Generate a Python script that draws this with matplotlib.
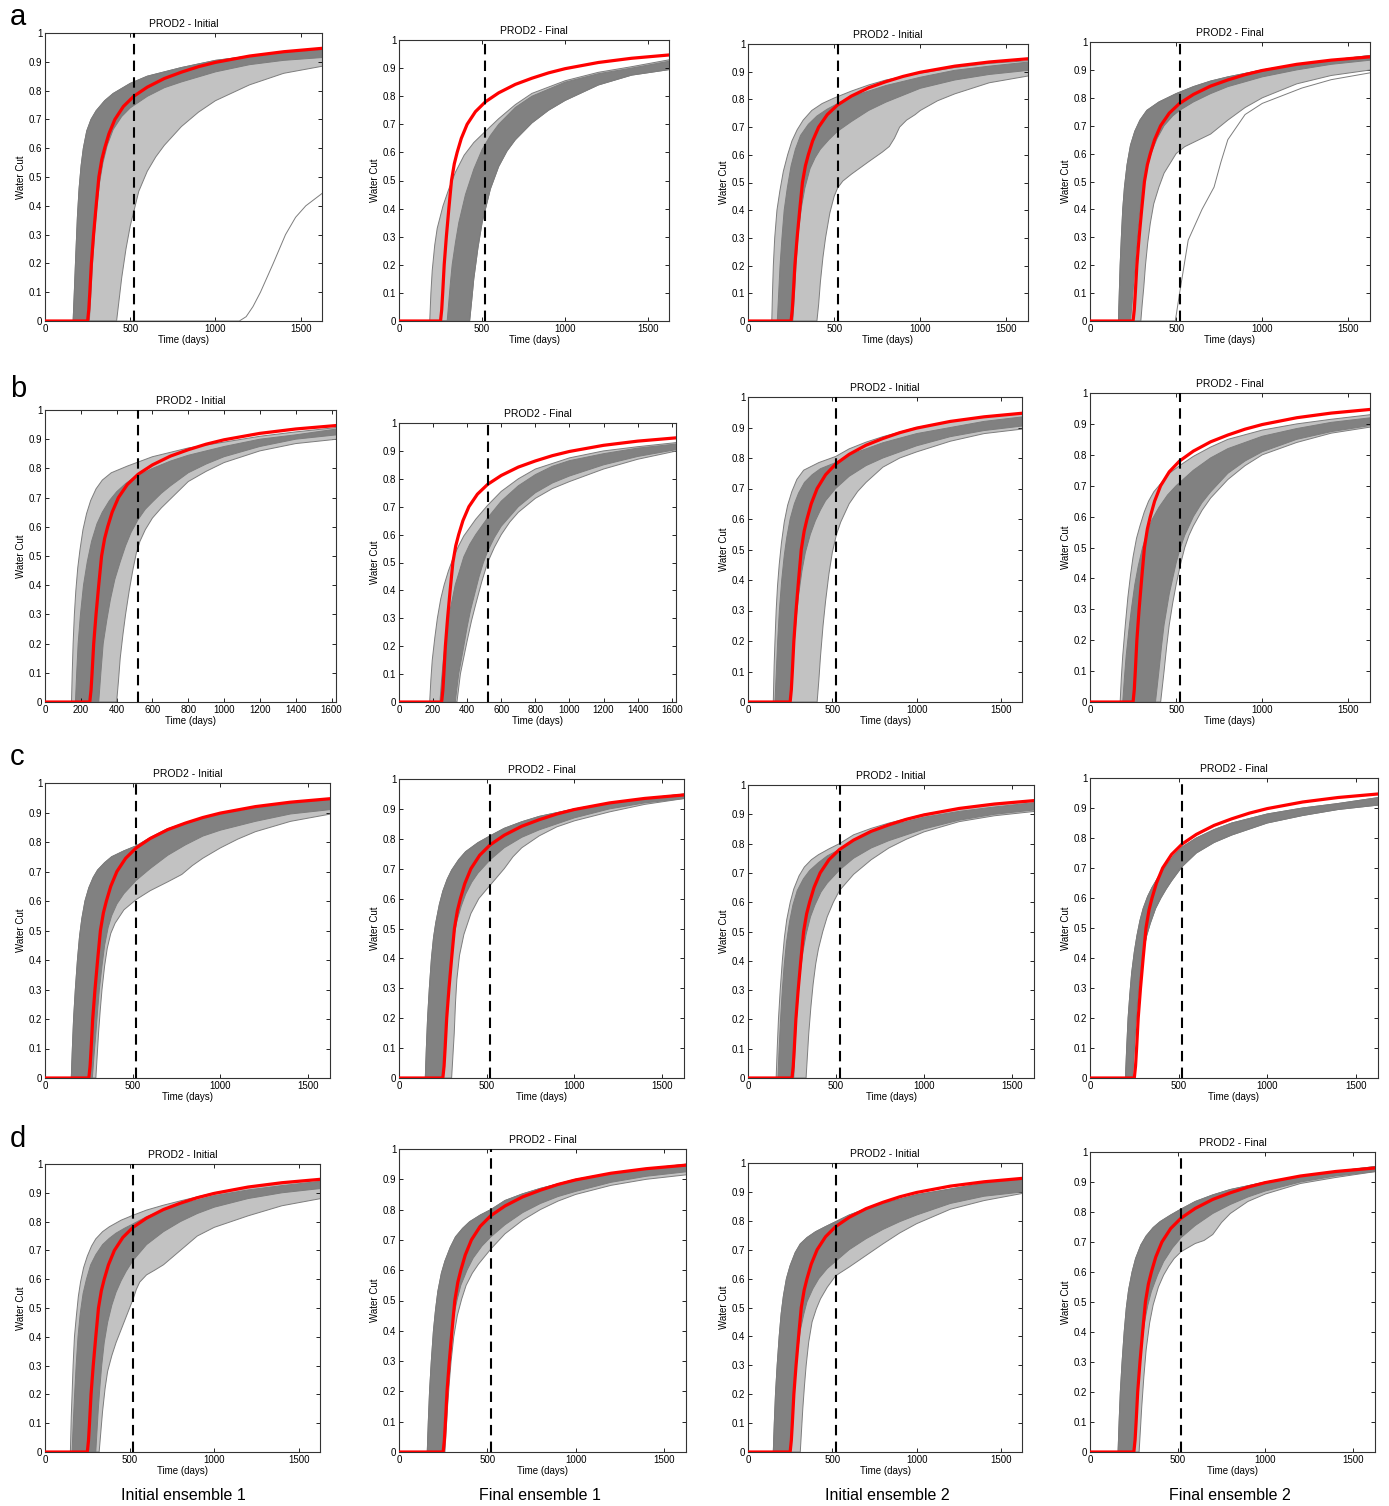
import matplotlib.pyplot as plt

plt.rcParams['font.family'] = ['Liberation Sans', 'DejaVu Sans']

# ---- data (time in days, water cut 0..1) ----

# truth water cut (red), identical in every panel
truth_t = [0, 150, 250, 257, 263, 272, 285, 300, 316, 333, 350, 375, 410, 460, 520, 600, 700, 800, 900, 1000, 1200, 1400, 1630]
truth_wc = [0, 0, 0, 0.04, 0.1, 0.2, 0.3, 0.4, 0.5, 0.56, 0.6, 0.65, 0.7, 0.745, 0.78, 0.812, 0.842, 0.864, 0.883, 0.898, 0.92, 0.935, 0.947]

history_end = 520  # dashed line

# ensemble envelopes as (time, water cut) points
# outer = all realisations, core = where the grey curves overlap densely
a1_outer_up = [(0, 0), (165, 0), (172, 0.1), (180, 0.22), (190, 0.36), (200, 0.46), (212, 0.54), (225, 0.6), (245, 0.66), (270, 0.7), (300, 0.73), (350, 0.765), (400, 0.79), (500, 0.825), (600, 0.85), (800, 0.88), (1000, 0.905), (1200, 0.92), (1400, 0.933), (1630, 0.943)]
a1_core_lo = [(0, 0), (260, 0), (268, 0.08), (277, 0.18), (290, 0.3), (305, 0.4), (320, 0.48), (340, 0.55), (365, 0.61), (400, 0.665), (450, 0.71), (500, 0.74), (600, 0.78), (700, 0.81), (800, 0.83), (1000, 0.865), (1200, 0.89), (1400, 0.905), (1630, 0.915)]
a1_outer_lo = [(0, 0), (420, 0), (432, 0.06), (450, 0.15), (475, 0.25), (500, 0.33), (550, 0.45), (600, 0.52), (650, 0.57), (700, 0.61), (800, 0.675), (900, 0.725), (1000, 0.765), (1200, 0.82), (1400, 0.86), (1630, 0.885)]
a1_extra = [[(0, 0), (1140, 0), (1180, 0.015), (1220, 0.05), (1264, 0.1), (1339, 0.2), (1411, 0.3), (1470, 0.36), (1530, 0.4), (1630, 0.445)]]

a2_outer_up = [(0, 0), (185, 0), (192, 0.1), (200, 0.18), (215, 0.27), (230, 0.33), (265, 0.41), (300, 0.47), (340, 0.53), (392, 0.59), (450, 0.635), (520, 0.675), (600, 0.72), (700, 0.77), (800, 0.81), (1000, 0.855), (1200, 0.885), (1400, 0.905), (1630, 0.93)]
a2_core_up = [(0, 0), (290, 0), (300, 0.07), (310, 0.14), (320, 0.2), (340, 0.28), (360, 0.35), (400, 0.45), (450, 0.54), (500, 0.61), (550, 0.66), (600, 0.7), (700, 0.76), (800, 0.8), (1000, 0.85), (1200, 0.88), (1400, 0.9), (1630, 0.925)]
a2_core_lo = [(0, 0), (425, 0), (437, 0.07), (450, 0.15), (475, 0.26), (500, 0.35), (550, 0.47), (600, 0.55), (650, 0.605), (700, 0.645), (800, 0.705), (900, 0.75), (1000, 0.785), (1200, 0.84), (1400, 0.875), (1630, 0.895)]

a3_outer_up = [(0, 0), (138, 0), (142, 0.1), (147, 0.2), (155, 0.3), (168, 0.4), (185, 0.47), (205, 0.54), (230, 0.6), (255, 0.65), (285, 0.69), (320, 0.725), (370, 0.76), (430, 0.785), (500, 0.805), (600, 0.83), (700, 0.852), (800, 0.87), (1000, 0.895), (1200, 0.915), (1400, 0.93), (1630, 0.94)]
a3_core_up = [(0, 0), (170, 0), (178, 0.1), (186, 0.2), (197, 0.3), (210, 0.4), (228, 0.48), (250, 0.56), (275, 0.62), (305, 0.67), (350, 0.71), (400, 0.74), (460, 0.765), (520, 0.785), (600, 0.81), (700, 0.83), (800, 0.85), (1000, 0.88), (1200, 0.905), (1400, 0.92), (1630, 0.935)]
a3_core_lo = [(0, 0), (260, 0), (270, 0.1), (280, 0.22), (292, 0.32), (310, 0.41), (330, 0.48), (360, 0.55), (390, 0.59), (420, 0.62), (470, 0.655), (520, 0.685), (600, 0.72), (700, 0.76), (800, 0.79), (1000, 0.84), (1200, 0.87), (1400, 0.89), (1630, 0.905)]
a3_outer_lo = [(0, 0), (400, 0), (410, 0.06), (420, 0.14), (435, 0.23), (450, 0.3), (475, 0.39), (500, 0.45), (520, 0.48), (550, 0.505), (600, 0.53), (700, 0.575), (780, 0.61), (820, 0.63), (850, 0.66), (880, 0.7), (920, 0.725), (970, 0.745), (1000, 0.76), (1100, 0.795), (1200, 0.82), (1400, 0.86), (1630, 0.885)]

a4_outer_up = [(0, 0), (165, 0), (170, 0.1), (175, 0.2), (182, 0.3), (190, 0.4), (200, 0.48), (215, 0.56), (235, 0.63), (260, 0.68), (290, 0.72), (330, 0.755), (400, 0.785), (500, 0.815), (600, 0.84), (700, 0.86), (800, 0.875), (1000, 0.9), (1200, 0.92), (1400, 0.935), (1630, 0.952)]
a4_core_lo = [(0, 0), (235, 0), (245, 0.07), (255, 0.15), (265, 0.23), (275, 0.3), (288, 0.39), (300, 0.45), (315, 0.5), (335, 0.56), (360, 0.61), (390, 0.655), (430, 0.7), (480, 0.735), (520, 0.755), (600, 0.785), (700, 0.815), (800, 0.84), (1000, 0.875), (1200, 0.9), (1400, 0.92), (1630, 0.935)]
a4_outer_lo = [(0, 0), (295, 0), (303, 0.06), (312, 0.12), (322, 0.2), (335, 0.28), (350, 0.35), (370, 0.42), (400, 0.48), (430, 0.53), (470, 0.57), (500, 0.6), (550, 0.625), (600, 0.64), (650, 0.655), (700, 0.67), (750, 0.695), (800, 0.72), (900, 0.765), (1000, 0.8), (1200, 0.85), (1400, 0.88), (1630, 0.9)]
a4_extra = [[(0, 0), (495, 0), (520, 0.1), (570, 0.29), (650, 0.4), (720, 0.48), (760, 0.57), (800, 0.65), (900, 0.74), (1000, 0.78), (1230, 0.835), (1400, 0.865), (1630, 0.89)]]

b1_outer_up = [(0, 0), (148, 0), (152, 0.1), (157, 0.2), (164, 0.3), (172, 0.38), (183, 0.46), (195, 0.52), (212, 0.59), (232, 0.645), (255, 0.69), (285, 0.73), (320, 0.76), (370, 0.785), (460, 0.808), (600, 0.84), (800, 0.87), (1000, 0.89), (1200, 0.91), (1400, 0.925), (1630, 0.94)]
b1_core_up = [(0, 0), (170, 0), (177, 0.1), (185, 0.2), (198, 0.3), (215, 0.4), (236, 0.48), (260, 0.55), (290, 0.61), (320, 0.65), (360, 0.69), (400, 0.72), (450, 0.748), (500, 0.77), (600, 0.8), (700, 0.825), (800, 0.845), (1000, 0.875), (1200, 0.9), (1400, 0.915), (1630, 0.935)]
b1_core_lo = [(0, 0), (300, 0), (312, 0.1), (325, 0.2), (345, 0.28), (365, 0.35), (390, 0.42), (420, 0.48), (450, 0.535), (480, 0.58), (520, 0.625), (560, 0.66), (600, 0.685), (650, 0.715), (700, 0.74), (800, 0.785), (900, 0.815), (1000, 0.84), (1200, 0.875), (1400, 0.9), (1630, 0.915)]
b1_outer_lo = [(0, 0), (400, 0), (410, 0.07), (420, 0.15), (435, 0.23), (450, 0.3), (470, 0.38), (490, 0.45), (510, 0.51), (530, 0.55), (560, 0.59), (600, 0.63), (650, 0.665), (700, 0.695), (800, 0.755), (900, 0.79), (1000, 0.82), (1200, 0.86), (1400, 0.885), (1630, 0.9)]

b2_outer_up = [(0, 0), (180, 0), (187, 0.08), (195, 0.15), (210, 0.23), (225, 0.3), (245, 0.37), (265, 0.42), (290, 0.47), (320, 0.52), (350, 0.56), (380, 0.595), (450, 0.655), (520, 0.705), (600, 0.755), (700, 0.8), (800, 0.835), (1000, 0.875), (1200, 0.9), (1400, 0.915), (1630, 0.93)]
b2_core_up = [(0, 0), (240, 0), (250, 0.08), (260, 0.15), (275, 0.23), (290, 0.3), (310, 0.36), (330, 0.42), (355, 0.47), (380, 0.52), (415, 0.565), (450, 0.6), (520, 0.66), (600, 0.72), (700, 0.775), (800, 0.815), (900, 0.845), (1000, 0.865), (1200, 0.89), (1400, 0.91), (1630, 0.925)]
b2_core_lo = [(0, 0), (330, 0), (340, 0.05), (350, 0.1), (365, 0.15), (380, 0.2), (400, 0.27), (420, 0.33), (445, 0.39), (470, 0.45), (495, 0.5), (520, 0.54), (560, 0.59), (600, 0.63), (650, 0.665), (700, 0.7), (800, 0.75), (900, 0.785), (1000, 0.81), (1200, 0.85), (1400, 0.88), (1630, 0.905)]
b2_outer_lo = [(0, 0), (340, 0), (350, 0.05), (360, 0.1), (380, 0.16), (400, 0.22), (425, 0.29), (450, 0.35), (485, 0.43), (520, 0.5), (560, 0.555), (600, 0.6), (650, 0.645), (700, 0.68), (800, 0.73), (900, 0.765), (1000, 0.79), (1200, 0.835), (1400, 0.87), (1630, 0.9)]

b3_outer_up = [(0, 0), (150, 0), (155, 0.12), (160, 0.2), (167, 0.3), (175, 0.38), (185, 0.45), (198, 0.52), (215, 0.59), (235, 0.645), (260, 0.69), (290, 0.73), (330, 0.76), (420, 0.785), (520, 0.805), (600, 0.83), (700, 0.852), (800, 0.87), (1000, 0.9), (1200, 0.92), (1400, 0.935), (1630, 0.945)]
b3_core_up = [(0, 0), (160, 0), (168, 0.1), (176, 0.2), (186, 0.3), (200, 0.4), (215, 0.48), (230, 0.54), (250, 0.6), (275, 0.65), (300, 0.685), (335, 0.72), (380, 0.745), (430, 0.765), (520, 0.785), (600, 0.81), (700, 0.83), (800, 0.85), (1000, 0.88), (1200, 0.9), (1400, 0.92), (1630, 0.935)]
b3_core_lo = [(0, 0), (250, 0), (262, 0.1), (275, 0.2), (287, 0.28), (300, 0.35), (320, 0.43), (340, 0.49), (370, 0.55), (400, 0.595), (430, 0.63), (460, 0.66), (520, 0.7), (600, 0.74), (700, 0.775), (800, 0.8), (1000, 0.84), (1200, 0.87), (1400, 0.89), (1630, 0.905)]
b3_outer_lo = [(0, 0), (410, 0), (420, 0.07), (430, 0.15), (445, 0.25), (460, 0.33), (480, 0.42), (500, 0.49), (525, 0.55), (550, 0.59), (600, 0.65), (650, 0.69), (700, 0.72), (800, 0.77), (900, 0.8), (1000, 0.82), (1200, 0.855), (1400, 0.88), (1630, 0.895)]

b4_outer_up = [(0, 0), (175, 0), (182, 0.08), (190, 0.15), (205, 0.25), (220, 0.34), (235, 0.41), (250, 0.47), (270, 0.53), (290, 0.57), (315, 0.615), (340, 0.65), (370, 0.68), (400, 0.7), (460, 0.74), (520, 0.765), (600, 0.795), (700, 0.825), (800, 0.85), (1000, 0.88), (1200, 0.9), (1400, 0.915), (1630, 0.93)]
b4_core_up = [(0, 0), (190, 0), (200, 0.08), (210, 0.15), (225, 0.23), (240, 0.3), (260, 0.38), (280, 0.44), (305, 0.5), (330, 0.545), (360, 0.59), (400, 0.63), (450, 0.67), (500, 0.7), (600, 0.75), (700, 0.79), (800, 0.82), (1000, 0.86), (1200, 0.885), (1400, 0.905), (1630, 0.92)]
b4_core_lo = [(0, 0), (380, 0), (390, 0.05), (400, 0.1), (415, 0.18), (430, 0.25), (445, 0.3), (460, 0.35), (480, 0.4), (500, 0.45), (525, 0.5), (550, 0.54), (600, 0.6), (650, 0.645), (700, 0.68), (800, 0.74), (900, 0.78), (1000, 0.81), (1200, 0.85), (1400, 0.875), (1630, 0.895)]
b4_outer_lo = [(0, 0), (410, 0), (420, 0.05), (430, 0.1), (445, 0.18), (460, 0.25), (480, 0.32), (500, 0.38), (525, 0.445), (550, 0.5), (575, 0.54), (600, 0.57), (650, 0.62), (700, 0.66), (800, 0.72), (900, 0.765), (1000, 0.8), (1200, 0.84), (1400, 0.87), (1630, 0.89)]

c1_outer_up = [(0, 0), (150, 0), (156, 0.1), (163, 0.2), (173, 0.3), (185, 0.4), (197, 0.48), (210, 0.54), (228, 0.6), (250, 0.645), (275, 0.68), (300, 0.705), (340, 0.73), (380, 0.75), (450, 0.77), (520, 0.787), (600, 0.815), (700, 0.845), (800, 0.865), (1000, 0.895), (1200, 0.915), (1400, 0.93), (1630, 0.945)]
c1_core_lo = [(0, 0), (270, 0), (280, 0.08), (290, 0.15), (300, 0.23), (310, 0.3), (325, 0.38), (340, 0.45), (360, 0.51), (380, 0.55), (410, 0.59), (450, 0.625), (520, 0.67), (600, 0.71), (700, 0.755), (800, 0.79), (900, 0.82), (1000, 0.84), (1200, 0.87), (1400, 0.895), (1630, 0.91)]
c1_outer_lo = [(0, 0), (290, 0), (297, 0.07), (305, 0.15), (315, 0.23), (325, 0.3), (340, 0.38), (355, 0.44), (375, 0.49), (400, 0.525), (450, 0.57), (520, 0.605), (600, 0.635), (700, 0.665), (780, 0.69), (810, 0.705), (840, 0.72), (900, 0.745), (1000, 0.78), (1100, 0.81), (1200, 0.835), (1400, 0.87), (1630, 0.895)]

c2_outer_up = [(0, 0), (150, 0), (156, 0.1), (163, 0.2), (173, 0.3), (185, 0.4), (197, 0.47), (210, 0.52), (230, 0.58), (250, 0.625), (275, 0.665), (300, 0.695), (340, 0.73), (380, 0.757), (450, 0.787), (520, 0.81), (600, 0.835), (700, 0.857), (800, 0.875), (1000, 0.9), (1200, 0.92), (1400, 0.935), (1630, 0.95)]
c2_core_lo = [(0, 0), (245, 0), (253, 0.08), (260, 0.15), (270, 0.23), (280, 0.3), (290, 0.37), (300, 0.42), (315, 0.48), (330, 0.525), (355, 0.575), (380, 0.615), (415, 0.655), (450, 0.685), (520, 0.73), (600, 0.77), (700, 0.805), (800, 0.83), (1000, 0.87), (1200, 0.9), (1400, 0.92), (1630, 0.935)]
c2_outer_lo = [(0, 0), (300, 0), (307, 0.07), (315, 0.15), (322, 0.25), (330, 0.33), (345, 0.41), (370, 0.48), (410, 0.55), (455, 0.6), (520, 0.645), (600, 0.7), (650, 0.74), (700, 0.77), (800, 0.81), (900, 0.84), (1000, 0.86), (1200, 0.89), (1400, 0.915), (1630, 0.935)]

c3_outer_up = [(0, 0), (160, 0), (166, 0.1), (173, 0.2), (183, 0.3), (195, 0.4), (207, 0.48), (220, 0.54), (240, 0.6), (260, 0.645), (290, 0.69), (320, 0.72), (360, 0.745), (400, 0.762), (460, 0.782), (520, 0.8), (600, 0.83), (700, 0.852), (800, 0.87), (1000, 0.9), (1200, 0.92), (1400, 0.935), (1630, 0.945)]
c3_core_up = [(0, 0), (170, 0), (177, 0.1), (185, 0.2), (195, 0.3), (205, 0.38), (218, 0.46), (235, 0.53), (255, 0.59), (280, 0.64), (315, 0.68), (350, 0.708), (400, 0.735), (450, 0.758), (520, 0.78), (600, 0.81), (700, 0.838), (800, 0.86), (1000, 0.89), (1200, 0.91), (1400, 0.925), (1630, 0.94)]
c3_core_lo = [(0, 0), (260, 0), (267, 0.1), (275, 0.2), (285, 0.28), (295, 0.35), (312, 0.43), (330, 0.49), (355, 0.55), (380, 0.59), (415, 0.635), (450, 0.665), (520, 0.71), (600, 0.75), (700, 0.785), (800, 0.81), (1000, 0.85), (1200, 0.88), (1400, 0.9), (1630, 0.915)]
c3_outer_lo = [(0, 0), (330, 0), (337, 0.07), (345, 0.15), (357, 0.24), (370, 0.32), (385, 0.39), (400, 0.44), (425, 0.5), (450, 0.55), (485, 0.6), (520, 0.64), (600, 0.695), (700, 0.745), (800, 0.785), (900, 0.815), (1000, 0.84), (1200, 0.875), (1400, 0.895), (1630, 0.91)]

c4_outer_up = [(0, 0), (200, 0), (207, 0.1), (215, 0.2), (225, 0.28), (235, 0.35), (250, 0.42), (265, 0.475), (282, 0.525), (300, 0.565), (325, 0.605), (350, 0.635), (385, 0.67), (420, 0.7), (470, 0.74), (520, 0.77), (600, 0.8), (700, 0.828), (800, 0.85), (1000, 0.88), (1200, 0.9), (1400, 0.915), (1630, 0.935)]
c4_outer_lo = [(0, 0), (240, 0), (247, 0.07), (255, 0.15), (265, 0.23), (275, 0.3), (287, 0.36), (300, 0.42), (320, 0.475), (340, 0.515), (370, 0.565), (400, 0.6), (430, 0.63), (460, 0.657), (520, 0.705), (600, 0.75), (700, 0.785), (800, 0.81), (1000, 0.85), (1200, 0.875), (1400, 0.895), (1630, 0.91)]

d1_outer_up = [(0, 0), (150, 0), (155, 0.12), (160, 0.2), (166, 0.3), (174, 0.4), (185, 0.47), (197, 0.54), (210, 0.59), (228, 0.64), (250, 0.68), (275, 0.715), (300, 0.74), (340, 0.765), (380, 0.782), (450, 0.805), (520, 0.822), (600, 0.84), (700, 0.857), (800, 0.872), (1000, 0.9), (1200, 0.92), (1400, 0.935), (1630, 0.945)]
d1_core_up = [(0, 0), (160, 0), (167, 0.1), (175, 0.2), (184, 0.3), (195, 0.4), (208, 0.48), (225, 0.55), (245, 0.6), (270, 0.65), (300, 0.685), (340, 0.72), (380, 0.742), (420, 0.76), (470, 0.777), (520, 0.792), (600, 0.817), (700, 0.84), (800, 0.86), (1000, 0.89), (1200, 0.91), (1400, 0.925), (1630, 0.94)]
d1_core_lo = [(0, 0), (300, 0), (307, 0.07), (315, 0.15), (325, 0.23), (335, 0.3), (350, 0.38), (370, 0.45), (395, 0.51), (420, 0.555), (450, 0.595), (480, 0.628), (520, 0.665), (600, 0.72), (700, 0.765), (800, 0.8), (900, 0.828), (1000, 0.85), (1200, 0.88), (1400, 0.9), (1630, 0.915)]
d1_outer_lo = [(0, 0), (320, 0), (330, 0.07), (340, 0.14), (355, 0.22), (370, 0.28), (395, 0.335), (420, 0.38), (450, 0.425), (480, 0.47), (500, 0.5), (520, 0.53), (540, 0.565), (560, 0.59), (600, 0.615), (650, 0.632), (700, 0.65), (750, 0.675), (800, 0.7), (900, 0.75), (1000, 0.78), (1100, 0.8), (1200, 0.82), (1400, 0.855), (1630, 0.88)]

d2_outer_up = [(0, 0), (160, 0), (166, 0.1), (173, 0.2), (183, 0.3), (195, 0.4), (207, 0.47), (220, 0.53), (240, 0.59), (260, 0.63), (290, 0.675), (320, 0.71), (360, 0.738), (400, 0.76), (460, 0.782), (520, 0.8), (600, 0.83), (700, 0.852), (800, 0.87), (1000, 0.9), (1200, 0.92), (1400, 0.935), (1630, 0.95)]
d2_core_lo = [(0, 0), (245, 0), (252, 0.07), (260, 0.15), (270, 0.23), (280, 0.3), (295, 0.38), (310, 0.45), (330, 0.505), (350, 0.55), (385, 0.6), (420, 0.64), (470, 0.68), (520, 0.71), (600, 0.75), (700, 0.79), (800, 0.82), (900, 0.843), (1000, 0.86), (1200, 0.89), (1400, 0.91), (1630, 0.925)]
d2_outer_lo = [(0, 0), (260, 0), (267, 0.07), (275, 0.15), (285, 0.23), (295, 0.3), (310, 0.38), (330, 0.45), (355, 0.505), (380, 0.55), (415, 0.59), (450, 0.62), (520, 0.67), (600, 0.72), (700, 0.765), (800, 0.8), (900, 0.828), (1000, 0.85), (1200, 0.88), (1400, 0.9), (1630, 0.915)]

d3_outer_up = [(0, 0), (150, 0), (156, 0.1), (163, 0.2), (173, 0.3), (185, 0.4), (197, 0.48), (210, 0.54), (228, 0.6), (250, 0.645), (280, 0.69), (310, 0.72), (350, 0.742), (400, 0.762), (460, 0.78), (520, 0.797), (600, 0.82), (700, 0.842), (800, 0.86), (1000, 0.89), (1200, 0.91), (1400, 0.93), (1630, 0.945)]
d3_core_lo = [(0, 0), (250, 0), (257, 0.07), (265, 0.15), (275, 0.23), (285, 0.3), (297, 0.36), (310, 0.42), (330, 0.475), (350, 0.52), (385, 0.565), (420, 0.6), (470, 0.635), (520, 0.66), (600, 0.7), (700, 0.738), (800, 0.77), (900, 0.797), (1000, 0.82), (1200, 0.86), (1400, 0.885), (1630, 0.9)]
d3_outer_lo = [(0, 0), (310, 0), (317, 0.07), (325, 0.15), (335, 0.23), (345, 0.3), (360, 0.38), (380, 0.45), (405, 0.495), (430, 0.53), (470, 0.57), (520, 0.61), (600, 0.64), (700, 0.68), (800, 0.72), (900, 0.758), (1000, 0.79), (1200, 0.84), (1400, 0.87), (1630, 0.895)]

d4_outer_up = [(0, 0), (160, 0), (166, 0.1), (173, 0.2), (183, 0.3), (195, 0.4), (207, 0.48), (220, 0.54), (240, 0.6), (260, 0.645), (290, 0.69), (320, 0.72), (360, 0.748), (400, 0.768), (460, 0.79), (520, 0.81), (600, 0.835), (700, 0.857), (800, 0.875), (1000, 0.9), (1200, 0.92), (1400, 0.935), (1630, 0.952)]
d4_core_lo = [(0, 0), (250, 0), (257, 0.07), (265, 0.15), (275, 0.23), (285, 0.3), (297, 0.37), (310, 0.43), (330, 0.49), (350, 0.535), (385, 0.59), (420, 0.635), (470, 0.68), (520, 0.715), (600, 0.755), (700, 0.795), (800, 0.825), (900, 0.85), (1000, 0.87), (1200, 0.9), (1400, 0.92), (1630, 0.935)]
d4_outer_lo = [(0, 0), (280, 0), (287, 0.07), (295, 0.15), (307, 0.25), (320, 0.34), (340, 0.43), (360, 0.49), (390, 0.55), (420, 0.59), (450, 0.62), (480, 0.645), (520, 0.668), (600, 0.695), (650, 0.705), (700, 0.725), (750, 0.765), (800, 0.795), (900, 0.835), (1000, 0.86), (1200, 0.895), (1400, 0.915), (1630, 0.935)]

col_titles = ['PROD2 - Initial', 'PROD2 - Final', 'PROD2 - Initial', 'PROD2 - Final']
col_labels = ['Initial ensemble 1', 'Final ensemble 1', 'Initial ensemble 2', 'Final ensemble 2']
row_letters = ['a', 'b', 'c', 'd']
x_ticks = [0, 500, 1000, 1500]
x_ticks_fine = [0, 200, 400, 600, 800, 1000, 1200, 1400, 1600]
y_ticks = [0, 0.1, 0.2, 0.3, 0.4, 0.5, 0.6, 0.7, 0.8, 0.9, 1]

# (outer_up, outer_lo, core_up, core_lo, extra lines)
panels = [
    [(a1_outer_up, a1_outer_lo, a1_outer_up, a1_core_lo, a1_extra),
     (a2_outer_up, a2_core_lo, a2_core_up, a2_core_lo, []),
     (a3_outer_up, a3_outer_lo, a3_core_up, a3_core_lo, []),
     (a4_outer_up, a4_outer_lo, a4_outer_up, a4_core_lo, a4_extra)],
    [(b1_outer_up, b1_outer_lo, b1_core_up, b1_core_lo, []),
     (b2_outer_up, b2_outer_lo, b2_core_up, b2_core_lo, []),
     (b3_outer_up, b3_outer_lo, b3_core_up, b3_core_lo, []),
     (b4_outer_up, b4_outer_lo, b4_core_up, b4_core_lo, [])],
    [(c1_outer_up, c1_outer_lo, c1_outer_up, c1_core_lo, []),
     (c2_outer_up, c2_outer_lo, c2_outer_up, c2_core_lo, []),
     (c3_outer_up, c3_outer_lo, c3_core_up, c3_core_lo, []),
     (c4_outer_up, c4_outer_lo, c4_outer_up, c4_outer_lo, [])],
    [(d1_outer_up, d1_outer_lo, d1_core_up, d1_core_lo, []),
     (d2_outer_up, d2_outer_lo, d2_outer_up, d2_core_lo, []),
     (d3_outer_up, d3_outer_lo, d3_outer_up, d3_core_lo, []),
     (d4_outer_up, d4_outer_lo, d4_outer_up, d4_core_lo, [])],
]

# ---- layout: axes boxes in pixels (left, right, top, bottom) ----
W, H = 1389, 1506
boxes = [
    [(45, 322, 33, 321), (399, 669, 40, 321), (748, 1028, 44, 321), (1090, 1370, 42, 321)],
    [(45, 336, 410, 702), (399, 676, 423, 702), (748, 1022, 397, 702), (1090, 1370, 393, 702)],
    [(45, 330, 783, 1078), (399, 684, 779, 1078), (748, 1034, 785, 1078), (1090, 1378, 778, 1078)],
    [(45, 320, 1164, 1452), (399, 686, 1149, 1452), (748, 1022, 1163, 1452), (1090, 1375, 1152, 1452)],
]
letter_baseline = [25, 397, 765, 1147]
label_x = [183, 540, 887, 1230]

SPARSE = '#c2c2c2'
DENSE = '#818181'
LINE = '#7d7d7d'

fig = plt.figure(figsize=(W / 100, H / 100), dpi=100)


def xy(points):
    return [p[0] for p in points], [p[1] for p in points]


def draw_panel(ax, outer_up, outer_lo, core_up, core_lo, extra, title, ticks):
    ax.fill(*xy(outer_up + outer_lo[::-1]), color=SPARSE, lw=0, zorder=1)
    ax.fill(*xy(core_up + core_lo[::-1]), color=DENSE, lw=0, zorder=1.5)
    for curve in [outer_up, outer_lo, core_up, core_lo] + extra:
        ax.plot(*xy(curve), color=LINE, lw=0.7, zorder=2)
    ax.plot(truth_t, truth_wc, color='#ff0000', lw=2.3, zorder=3,
            solid_joinstyle='round')
    ax.axvline(history_end, color='black', lw=1.5, ls=(0, (5, 3)), zorder=4)

    ax.set_xlim(0, 1625)
    ax.set_ylim(0, 1)
    ax.set_xticks(ticks)
    ax.set_xticklabels([str(t) for t in ticks])
    ax.set_yticks(y_ticks)
    ax.set_yticklabels([f'{v:g}' for v in y_ticks])
    ax.tick_params(direction='in', top=True, right=True, length=3, width=0.6,
                   labelsize=7, pad=2)
    for s in ax.spines.values():
        s.set_linewidth(0.8)
        s.set_color('#333333')
    ax.set_title(title, fontsize=7.5, pad=4)
    ax.set_xlabel('Time (days)', fontsize=7, labelpad=1)
    ax.set_ylabel('Water Cut', fontsize=7, labelpad=2)


for r in range(4):
    for c in range(4):
        x0, x1, yt, yb = boxes[r][c]
        ax = fig.add_axes([x0 / W, 1 - yb / H, (x1 - x0) / W, (yb - yt) / H])
        ticks = x_ticks_fine if (r == 1 and c < 2) else x_ticks
        draw_panel(ax, *panels[r][c], col_titles[c], ticks)
    fig.text(10 / W, 1 - letter_baseline[r] / H, row_letters[r], fontsize=21,
             va='baseline', ha='left')

for c in range(4):
    fig.text(label_x[c] / W, 1 - 1495 / H, col_labels[c], fontsize=11.5,
             ha='center', va='center')

fig.savefig('out.png', dpi=100)
